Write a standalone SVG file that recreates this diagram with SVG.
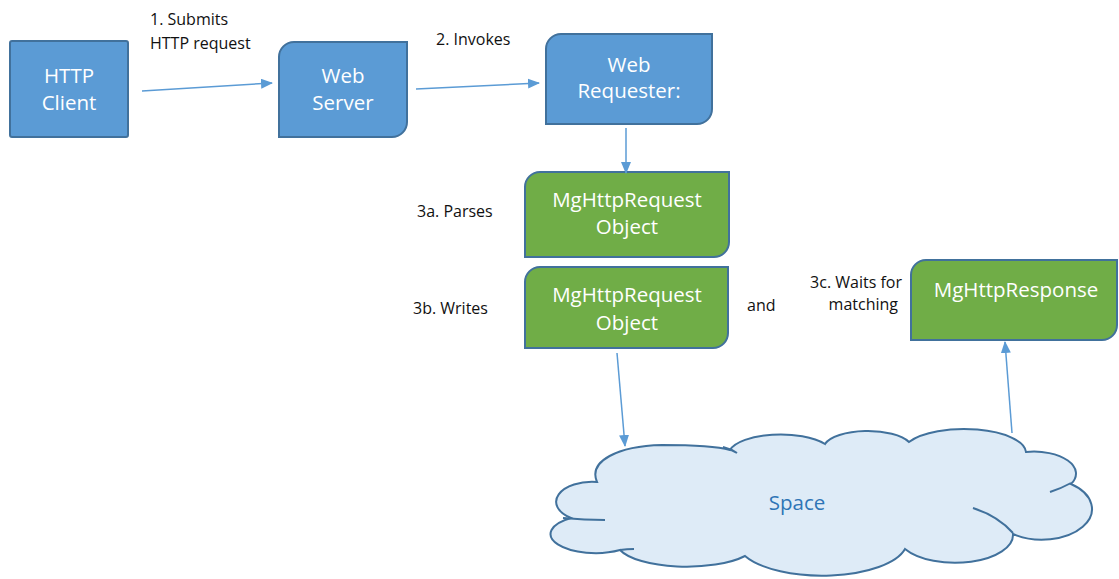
<svg xmlns="http://www.w3.org/2000/svg" width="1119" height="579" viewBox="0 0 1119 579">
<defs>
<marker id="ah" markerWidth="12" markerHeight="10" refX="11" refY="5" orient="auto" markerUnits="userSpaceOnUse">
<path d="M0,0 L12,5 L0,10 Z" fill="#5B9BD5"/>
</marker>
<style>
.blue{fill:#5B9BD5;stroke:#41719C;stroke-width:2}
.green{fill:#70AD47;stroke:#41719C;stroke-width:2}
.bt{font-family:"Open Sans","DejaVu Sans",sans-serif;font-size:20.5px;fill:#ffffff;text-anchor:middle}
.lb{font-family:"Open Sans","DejaVu Sans",sans-serif;font-size:16px;fill:#111111}
.conn{stroke:#5B9BD5;stroke-width:1.5;fill:none;marker-end:url(#ah)}
.cloud{fill:#DEEBF7;stroke:#41719C;stroke-width:2}
.tick{fill:none;stroke:#41719C;stroke-width:2}
</style>
</defs>
<rect width="1119" height="579" fill="#ffffff"/>

<g id="labels">
<text class="lb" x="150" y="25">1. Submits</text>
<text class="lb" x="150" y="49">HTTP request</text>
<text class="lb" x="436" y="45">2. Invokes</text>
<text class="lb" x="417" y="217">3a. Parses</text>
<text class="lb" x="413" y="314">3b. Writes</text>
<text class="lb" x="747" y="311">and</text>
<text class="lb" x="902" y="288" text-anchor="end">3c. Waits for</text>
<text class="lb" x="898" y="310" text-anchor="end">matching</text>
</g>

<g id="http-client">
<rect class="blue" x="10" y="41" width="118" height="96" rx="2"/>
<text class="bt" x="69" y="83">HTTP</text>
<text class="bt" x="69" y="110">Client</text>
</g>

<g id="web-server">
<path class="blue" d="M294,42 H407 V122 A15,15 0 0 1 392,137 H279 V57 A15,15 0 0 1 294,42 Z"/>
<text class="bt" x="343" y="83">Web</text>
<text class="bt" x="343" y="110">Server</text>
</g>

<g id="web-requester">
<path class="blue" d="M561,34 H712 V109 A15,15 0 0 1 697,124 H546 V49 A15,15 0 0 1 561,34 Z"/>
<text class="bt" x="629" y="72">Web</text>
<text class="bt" x="629" y="98">Requester:</text>
</g>

<g id="mg-request-1">
<path class="green" d="M540,172 H729 V242 A15,15 0 0 1 714,257 H525 V187 A15,15 0 0 1 540,172 Z"/>
<text class="bt" x="627" y="207">MgHttpRequest</text>
<text class="bt" x="627" y="234">Object</text>
</g>

<g id="mg-request-2">
<path class="green" d="M540,267 H728 V333 A15,15 0 0 1 713,348 H525 V282 A15,15 0 0 1 540,267 Z"/>
<text class="bt" x="627" y="302">MgHttpRequest</text>
<text class="bt" x="627" y="330">Object</text>
</g>

<g id="mg-response">
<path class="green" d="M926,260 H1117 V325 A15,15 0 0 1 1102,340 H911 V275 A15,15 0 0 1 926,260 Z"/>
<text class="bt" x="1016" y="297">MgHttpResponse</text>
</g>

<g id="space">
<path class="cloud" d="M597,482 C588,461 618,446 662,445 C694,445 716,446 730,450 A52,20 0 0 1 825,444 A44,17 0 0 1 909,442 A62,24 0 0 1 1026,452 A42,22 0 0 1 1071,484 A44,27 0 0 1 1013,534 A58,28 0 0 1 905,549 A85,34 0 0 1 745,556 A70,24 0 0 1 620,550 A40,17 0 0 1 571,518 A36,20 0 0 1 597,482 Z"/>
<path class="tick" d="M563,518 Q585,520 605,520"/>
<path class="tick" d="M723,447 Q731,449 737,453"/>
<path class="tick" d="M1050,492 Q1062,488 1071,483"/>
<path class="tick" d="M973,508 Q998,516 1013,533"/>
<path class="tick" d="M620,550 Q627,549 634,549"/>
<text x="797" y="510" font-family="Open Sans, DejaVu Sans, sans-serif" font-size="20.5" fill="#2E75B6" text-anchor="middle">Space</text>
</g>

<g id="connectors">
<line class="conn" x1="142" y1="91" x2="272" y2="83"/>
<line class="conn" x1="416" y1="89" x2="539" y2="83"/>
<line class="conn" x1="626" y1="128" x2="626" y2="173"/>
<line class="conn" x1="617" y1="353" x2="625" y2="446"/>
<line class="conn" x1="1012" y1="433" x2="1005" y2="342"/>
</g>
</svg>
